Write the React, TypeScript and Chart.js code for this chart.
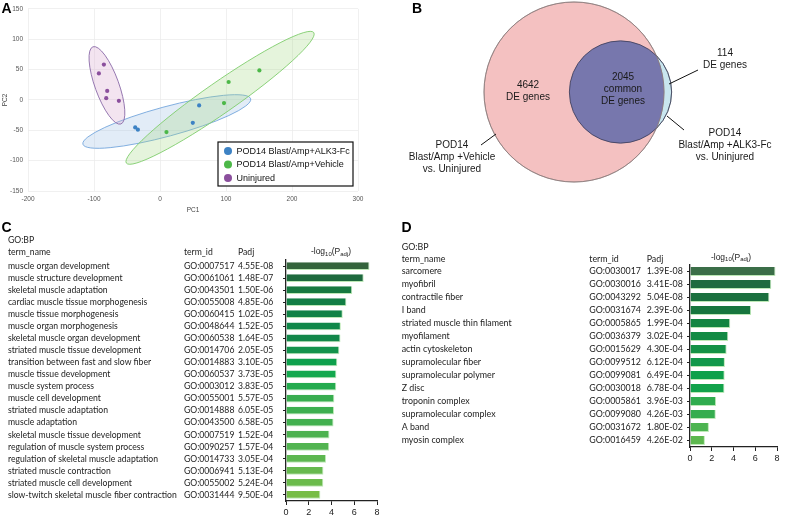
import React, { useEffect, useRef } from "react";
import { Chart, registerables } from "chart.js";

Chart.register(...registerables);

// ---------------- Panel A: PCA ----------------
const pcaGroups = ["POD14 Blast/Amp+ALK3-Fc", "POD14 Blast/Amp+Vehicle", "Uninjured"];
const alk3PC1 = [-37.6, -33.5, 49.7, 59.3];
const alk3PC2 = [-45.3, -49.0, -37.7, -9.0];
const vehiclePC1 = [9.8, 97.0, 104.0, 150.6];
const vehiclePC2 = [-52.9, -5.2, 29.6, 48.6];
const uninjuredPC1 = [-92.6, -85.0, -80.0, -81.5, -62.3];
const uninjuredPC2 = [43.7, 58.3, 14.9, 3.0, -1.4];
// confidence ellipses (per group): centre, tip of major axis, minor/major ratio
const ellipseCenterPC1 = [10.3, 91.0, -80.4];
const ellipseCenterPC2 = [-35.5, 3.5, 24.0];
const ellipseTipPC1 = [137.4, 233.0, -101.6];
const ellipseTipPC2 = [1.9, 111.0, 87.6];
const ellipseRatio = [0.17, 0.135, 0.29];
const pcaXTicks = [-200, -100, 0, 100, 200, 300];
const pcaYTicks = [-150, -100, -50, 0, 50, 100, 150];

// ---------------- Panel B: Venn ----------------
const vennVehicleOnly = 4642;
const vennCommon = 2045;
const vennAlk3Only = 114;

// ---------------- Panel C: GO:BP (vehicle) ----------------
const cTerms = [
  "muscle organ development",
  "muscle structure development",
  "skeletal muscle adaptation",
  "cardiac muscle tissue morphogenesis",
  "muscle tissue morphogenesis",
  "muscle organ morphogenesis",
  "skeletal muscle organ development",
  "striated muscle tissue development",
  "transition between fast and slow fiber",
  "muscle tissue development",
  "muscle system process",
  "muscle cell development",
  "striated muscle adaptation",
  "muscle adaptation",
  "skeletal muscle tissue development",
  "regulation of muscle system process",
  "regulation of skeletal muscle adaptation",
  "striated muscle contraction",
  "striated muscle cell development",
  "slow-twitch skeletal muscle fiber contraction",
];
const cIds = [
  "GO:0007517", "GO:0061061", "GO:0043501", "GO:0055008", "GO:0060415",
  "GO:0048644", "GO:0060538", "GO:0014706", "GO:0014883", "GO:0060537",
  "GO:0003012", "GO:0055001", "GO:0014888", "GO:0043500", "GO:0007519",
  "GO:0090257", "GO:0014733", "GO:0006941", "GO:0055002", "GO:0031444",
];
const cPadj = [
  "4.55E-08", "1.48E-07", "1.50E-06", "4.85E-06", "1.02E-05",
  "1.52E-05", "1.64E-05", "2.05E-05", "3.10E-05", "3.73E-05",
  "3.83E-05", "5.57E-05", "6.05E-05", "6.58E-05", "1.52E-04",
  "1.57E-04", "3.05E-04", "5.13E-04", "5.24E-04", "9.50E-04",
];
const cLogP = [
  7.34, 6.83, 5.82, 5.31, 4.99, 4.82, 4.79, 4.69, 4.51, 4.43,
  4.42, 4.25, 4.22, 4.18, 3.82, 3.80, 3.52, 3.29, 3.28, 3.02,
];

// ---------------- Panel D: GO (ALK3-Fc) ----------------
const dTerms = [
  "sarcomere", "myofibril", "contractile fiber", "I band",
  "striated muscle thin filament", "myofilament", "actin cytoskeleton",
  "supramolecular fiber", "supramolecular polymer", "Z disc",
  "troponin complex", "supramolecular complex", "A band", "myosin complex",
];
const dIds = [
  "GO:0030017", "GO:0030016", "GO:0043292", "GO:0031674", "GO:0005865",
  "GO:0036379", "GO:0015629", "GO:0099512", "GO:0099081", "GO:0030018",
  "GO:0005861", "GO:0099080", "GO:0031672", "GO:0016459",
];
const dPadj = [
  "1.39E-08", "3.41E-08", "5.04E-08", "2.39E-06", "1.99E-04",
  "3.02E-04", "4.30E-04", "6.12E-04", "6.49E-04", "6.78E-04",
  "3.96E-03", "4.26E-03", "1.80E-02", "4.26E-02",
];
const dLogP = [7.86, 7.47, 7.30, 5.62, 3.70, 3.52, 3.37, 3.21, 3.19, 3.17, 2.40, 2.37, 1.74, 1.37];
const barTicks = [0, 2, 4, 6, 8];

// ---------------- styles ----------------
const SANS = "'Liberation Sans', Arial, Helvetica, sans-serif";
const TABLE_FONT = "Lato, 'Open Sans', 'Noto Sans', sans-serif";
const groupColors = ["#3d82c4", "#4cb848", "#8b4f9d"];
const ellipseStroke = ["#74a6dc", "#7fcd6c", "#8a6aa8"];
const ellipseFill = ["rgba(150,185,228,0.28)", "rgba(160,215,130,0.28)", "rgba(215,165,205,0.3)"];
const cColors = [
  "#34643c", "#1e6a3e", "#177a40", "#127e44", "#118346", "#10884a", "#12874a",
  "#13934c", "#0ea04c", "#13a84e", "#24ab4e", "#38ad4f", "#3daf4f", "#42b04f",
  "#4db250", "#52b451", "#5db750", "#66b94e", "#6bbb4c", "#77bd45",
];
const dColors = [
  "#3b6e48", "#1f6b3f", "#1b703f", "#17763e", "#138541", "#128a44", "#149246",
  "#12984a", "#0fa04a", "#12a24b", "#30ac4e", "#35ad4e", "#4db451", "#5db84f",
];

function panelLetter(ctx: CanvasRenderingContext2D, letter: string, x: number, y: number) {
  ctx.save();
  ctx.font = `bold 14px ${SANS}`;
  ctx.fillStyle = "#000";
  ctx.textBaseline = "alphabetic";
  ctx.textAlign = "left";
  ctx.fillText(letter, x, y);
  ctx.restore();
}

// ---------------- Panel A config ----------------
function pcaConfig(): any {
  const xs = [alk3PC1, vehiclePC1, uninjuredPC1];
  const ys = [alk3PC2, vehiclePC2, uninjuredPC2];
  const datasets = pcaGroups.map((g, i) => ({
    label: g,
    data: xs[i].map((x, j) => ({ x, y: ys[i][j] })),
    backgroundColor: groupColors[i],
    borderColor: groupColors[i],
    pointRadius: 2.1,
    pointBorderWidth: 0,
  }));
  const ellipsePlugin = {
    id: "ellipses",
    beforeDatasetsDraw(chart: any) {
      const { ctx, scales } = chart;
      const sx = scales.x, sy = scales.y;
      ctx.save();
      for (let i = 0; i < ellipseCenterPC1.length; i++) {
        const cx = sx.getPixelForValue(ellipseCenterPC1[i]);
        const cy = sy.getPixelForValue(ellipseCenterPC2[i]);
        const tx = sx.getPixelForValue(ellipseTipPC1[i]);
        const ty = sy.getPixelForValue(ellipseTipPC2[i]);
        const a = Math.hypot(tx - cx, ty - cy);
        const rot = Math.atan2(ty - cy, tx - cx);
        ctx.beginPath();
        ctx.ellipse(cx, cy, a, a * ellipseRatio[i], rot, 0, Math.PI * 2);
        ctx.fillStyle = ellipseFill[i];
        ctx.fill();
        ctx.lineWidth = 0.9;
        ctx.strokeStyle = ellipseStroke[i];
        ctx.stroke();
      }
      ctx.restore();
    },
  };
  const legendPlugin = {
    id: "boxLegend",
    afterDraw(chart: any) {
      const { ctx } = chart;
      ctx.save();
      const bx = 218, by = 142, bw = 135, bh = 44;
      ctx.fillStyle = "#fff";
      ctx.fillRect(bx, by, bw, bh);
      ctx.strokeStyle = "#111";
      ctx.lineWidth = 1.2;
      ctx.strokeRect(bx, by, bw, bh);
      ctx.font = `9px ${SANS}`;
      ctx.textBaseline = "middle";
      ctx.textAlign = "left";
      chart.data.datasets.forEach((ds: any, i: number) => {
        const yy = by + 9 + i * 13.5;
        ctx.beginPath();
        ctx.arc(bx + 10, yy, 4, 0, Math.PI * 2);
        ctx.fillStyle = groupColors[i];
        ctx.fill();
        ctx.fillStyle = "#111";
        ctx.fillText(ds.label, bx + 18.5, yy + 0.5);
      });
      ctx.restore();
      panelLetter(ctx, "A", 1.5, 13.3);
    },
  };
  return {
    type: "scatter",
    data: { datasets },
    options: {
      responsive: false,
      animation: false,
      events: [],
      layout: { autoPadding: false, padding: { left: 0, top: 7, right: 17, bottom: 0 } },
      plugins: { legend: { display: false }, tooltip: { enabled: false } },
      scales: {
        x: {
          type: "linear",
          min: pcaXTicks[0],
          max: pcaXTicks[pcaXTicks.length - 1],
          afterBuildTicks: (s: any) => { s.ticks = pcaXTicks.map((v) => ({ value: v })); },
          ticks: { font: { size: 6.5, family: SANS }, color: "#555", padding: 4.5 },
          grid: { color: "#ececec", lineWidth: 0.8, drawTicks: false },
          border: { display: false },
          title: { display: true, text: "PC1", font: { size: 6.5, family: SANS }, color: "#444", padding: { top: 1, bottom: 1 } },
          afterFit: (s: any) => { s.height = 24; },
        },
        y: {
          type: "linear",
          min: pcaYTicks[0],
          max: pcaYTicks[pcaYTicks.length - 1],
          afterBuildTicks: (s: any) => { s.ticks = pcaYTicks.map((v) => ({ value: v })); },
          ticks: { font: { size: 6.5, family: SANS }, color: "#555", padding: 5 },
          grid: { color: "#ececec", lineWidth: 0.8, drawTicks: false },
          border: { display: false },
          title: { display: true, text: "PC2", font: { size: 6.5, family: SANS }, color: "#444", padding: { top: 1, bottom: 1 } },
          afterFit: (s: any) => { s.width = 28; },
        },
      },
    },
    plugins: [ellipsePlugin, legendPlugin],
  };
}

// ---------------- Panel B config ----------------
function vennConfig(): any {
  const W = 405, H = 200;
  const vehicleTotal = vennVehicleOnly + vennCommon;
  const alk3Total = vennAlk3Only + vennCommon;
  const rVehicle = 90;
  const rAlk3 = rVehicle * Math.sqrt(alk3Total / vehicleTotal);
  const vennPlugin = {
    id: "venn",
    afterDatasetsDraw(chart: any) {
      const { ctx } = chart;
      const p = chart.getDatasetMeta(0).data[0];
      const q = chart.getDatasetMeta(1).data[0];
      const rp = p.options.radius, rq = q.options.radius;
      ctx.save();
      // overlap region
      ctx.beginPath();
      ctx.arc(p.x, p.y, rp, 0, Math.PI * 2);
      ctx.clip();
      ctx.beginPath();
      ctx.arc(q.x, q.y, rq, 0, Math.PI * 2);
      ctx.fillStyle = "#7777ad";
      ctx.fill();
      ctx.restore();
      ctx.save();
      ctx.beginPath();
      ctx.arc(q.x, q.y, rq, 0, Math.PI * 2);
      ctx.strokeStyle = "#3a3a55";
      ctx.lineWidth = 0.8;
      ctx.stroke();
      ctx.beginPath();
      ctx.arc(p.x, p.y, rp, 0, Math.PI * 2);
      ctx.strokeStyle = "#8a7a7a";
      ctx.lineWidth = 0.7;
      ctx.stroke();
      ctx.restore();

      ctx.save();
      ctx.fillStyle = "#1a1a1a";
      ctx.font = `10px ${SANS}`;
      ctx.textAlign = "center";
      ctx.textBaseline = "middle";
      const lines = (arr: string[], x: number, y0: number) => arr.forEach((t, i) => ctx.fillText(t, x, y0 + i * 12));
      lines([String(vennVehicleOnly), "DE genes"], 148, 85);
      lines([String(vennCommon), "common", "DE genes"], 243, 77);
      lines([String(vennAlk3Only), "DE genes"], 345, 53);
      lines(["POD14", "Blast/Amp +ALK3-Fc", "vs. Uninjured"], 345, 133);
      lines(["POD14", "Blast/Amp +Vehicle", "vs. Uninjured"], 72, 145);
      ctx.strokeStyle = "#111";
      ctx.lineWidth = 1;
      const seg = (x1: number, y1: number, x2: number, y2: number) => {
        ctx.beginPath(); ctx.moveTo(x1, y1); ctx.lineTo(x2, y2); ctx.stroke();
      };
      seg(318, 70, 289, 84);
      seg(287, 116, 304, 130);
      seg(101, 145, 116, 134);
      ctx.restore();
      panelLetter(ctx, "B", 32, 12.7);
    },
  };
  return {
    type: "bubble",
    data: {
      datasets: [
        {
          label: "POD14 Blast/Amp +Vehicle vs. Uninjured",
          data: [{ x: 194, y: 92, r: rVehicle }],
          backgroundColor: "#f4c1c1",
          borderColor: "#8a7a7a",
          borderWidth: 0.7,
          clip: false,
        },
        {
          label: "POD14 Blast/Amp +ALK3-Fc vs. Uninjured",
          data: [{ x: 240.5, y: 92, r: rAlk3 }],
          backgroundColor: "#c9e6ef",
          borderColor: "#6a7f88",
          borderWidth: 0.7,
          clip: false,
        },
      ],
    },
    options: {
      responsive: false,
      animation: false,
      events: [],
      layout: { autoPadding: false, padding: 0 },
      plugins: { legend: { display: false }, tooltip: { enabled: false } },
      scales: {
        x: { type: "linear", min: 0, max: W, display: false },
        y: { type: "linear", min: 0, max: H, reverse: true, display: false },
      },
    },
    plugins: [vennPlugin],
  };
}

// ---------------- Panels C/D config ----------------
interface TableLayout {
  letter: string;
  letterX: number;
  nameX: number;
  idX: number;
  padjX: number;
  goY: number;
  headY: number;
  logX: number;
  logY: number;
  fitText: string;
  fitWidth: number;
}

function drawLogHeader(ctx: CanvasRenderingContext2D, cx: number, cy: number) {
  const big = `8.5px ${SANS}`;
  const small = `6px ${SANS}`;
  const parts: [string, string, number][] = [
    ["-log", big, 0],
    ["10", small, 2.2],
    ["(P", big, 0],
    ["adj", small, 2.2],
    [")", big, 0],
  ];
  let total = 0;
  parts.forEach(([t, f]) => { ctx.font = f; total += ctx.measureText(t).width; });
  let x = cx - total / 2;
  ctx.textAlign = "left";
  ctx.textBaseline = "middle";
  parts.forEach(([t, f, dy]) => {
    ctx.font = f;
    ctx.fillText(t, x, cy + dy);
    x += ctx.measureText(t).width;
  });
}

function goBarConfig(
  terms: string[], ids: string[], padj: string[], values: number[], colors: string[],
  lay: TableLayout, pad: { left: number; right: number; top: number; bottom: number }, barPct: number,
): any {
  const tablePlugin = {
    id: "goTable",
    afterDraw(chart: any) {
      const { ctx } = chart;
      const ys = chart.scales.y;
      ctx.save();
      ctx.font = `10px ${TABLE_FONT}`;
      const size = (10 * lay.fitWidth) / ctx.measureText(lay.fitText).width;
      ctx.font = `${size.toFixed(2)}px ${TABLE_FONT}`;
      ctx.fillStyle = "#222";
      ctx.textAlign = "left";
      ctx.textBaseline = "middle";
      ctx.fillText("GO:BP", lay.nameX, lay.goY);
      ctx.fillText("term_name", lay.nameX, lay.headY);
      ctx.fillText("term_id", lay.idX, lay.headY);
      ctx.fillText("Padj", lay.padjX, lay.headY);
      terms.forEach((t, i) => {
        const py = ys.getPixelForValue(i);
        ctx.fillText(t, lay.nameX, py);
        ctx.fillText(ids[i], lay.idX, py);
        ctx.fillText(padj[i], lay.padjX, py);
      });
      ctx.fillStyle = "#222";
      drawLogHeader(ctx, lay.logX, lay.logY);
      ctx.restore();
      panelLetter(ctx, lay.letter, lay.letterX, 17.3);
    },
  };
  return {
    type: "bar",
    data: {
      labels: terms,
      datasets: [
        {
          data: values,
          backgroundColor: colors,
          borderColor: "rgba(185,232,178,0.95)",
          borderWidth: { top: 0, left: 0, right: 1, bottom: 1 },
          borderSkipped: false,
          barPercentage: barPct,
          categoryPercentage: 1,
        },
      ],
    },
    options: {
      indexAxis: "y",
      responsive: false,
      animation: false,
      events: [],
      layout: { autoPadding: false, padding: pad },
      plugins: { legend: { display: false }, tooltip: { enabled: false } },
      scales: {
        x: {
          type: "linear",
          min: barTicks[0],
          max: barTicks[barTicks.length - 1],
          afterBuildTicks: (s: any) => { s.ticks = barTicks.map((v) => ({ value: v })); },
          ticks: { font: { size: 9, family: SANS }, color: "#222", padding: 2 },
          grid: { drawOnChartArea: false, drawTicks: true, tickLength: 4, color: "#222", lineWidth: 1 },
          border: { display: true, color: "#222", width: 1.3 },
          afterFit: (s: any) => { s.height = 17; },
        },
        y: {
          type: "category",
          ticks: { display: false, autoSkip: false },
          grid: { drawOnChartArea: false, drawTicks: true, tickLength: 3, offset: false, color: "#222", lineWidth: 1 },
          border: { display: true, color: "#222", width: 1.3 },
          afterFit: (s: any) => { s.width = 3; },
        },
      },
    },
    plugins: [tablePlugin],
  };
}

export default function App() {
  const aRef = useRef<HTMLCanvasElement>(null);
  const bRef = useRef<HTMLCanvasElement>(null);
  const cRef = useRef<HTMLCanvasElement>(null);
  const dRef = useRef<HTMLCanvasElement>(null);

  useEffect(() => {
    const charts: Chart[] = [];
    charts.push(new Chart(aRef.current!, pcaConfig()));
    charts.push(new Chart(bRef.current!, vennConfig()));
    charts.push(
      new Chart(
        cRef.current!,
        goBarConfig(
          cTerms, cIds, cPadj, cLogP, cColors,
          {
            letter: "C", letterX: 1.5, nameX: 8, idX: 184, padjX: 238, goY: 25, headY: 37.7,
            logX: 331, logY: 37, fitText: "slow-twitch skeletal muscle fiber contraction", fitWidth: 169,
          },
          { left: 283, right: 8, top: 45, bottom: 0 },
          0.64,
        ),
      ),
    );
    charts.push(
      new Chart(
        dRef.current!,
        goBarConfig(
          dTerms, dIds, dPadj, dLogP, dColors,
          {
            letter: "D", letterX: 6.5, nameX: 6.7, idX: 194.3, padjX: 251.7, goY: 32.3, headY: 44.3,
            logX: 336, logY: 42.3, fitText: "striated muscle thin filament", fitWidth: 110,
          },
          { left: 292, right: 8, top: 50, bottom: 54 },
          0.7,
        ),
      ),
    );
    return () => charts.forEach((c) => c.destroy());
  }, []);

  const abs = (left: number, top: number, w: number, h: number): React.CSSProperties => ({
    position: "absolute", left, top, width: w, height: h,
  });

  return (
    <div style={{ position: "fixed", left: 0, top: 0, width: 785, height: 518, background: "#fff", overflow: "hidden" }}>
      <div style={abs(0, 0, 375, 215)}>
        <canvas ref={aRef} width={375} height={215} style={{ display: "block", width: 375, height: 215 }} />
      </div>
      <div style={abs(380, 0, 405, 200)}>
        <canvas ref={bRef} width={405} height={200} style={{ display: "block", width: 405, height: 200 }} />
      </div>
      <div style={abs(0, 215, 385, 303)}>
        <canvas ref={cRef} width={385} height={303} style={{ display: "block", width: 385, height: 303 }} />
      </div>
      <div style={abs(395, 215, 390, 303)}>
        <canvas ref={dRef} width={390} height={303} style={{ display: "block", width: 390, height: 303 }} />
      </div>
    </div>
  );
}
